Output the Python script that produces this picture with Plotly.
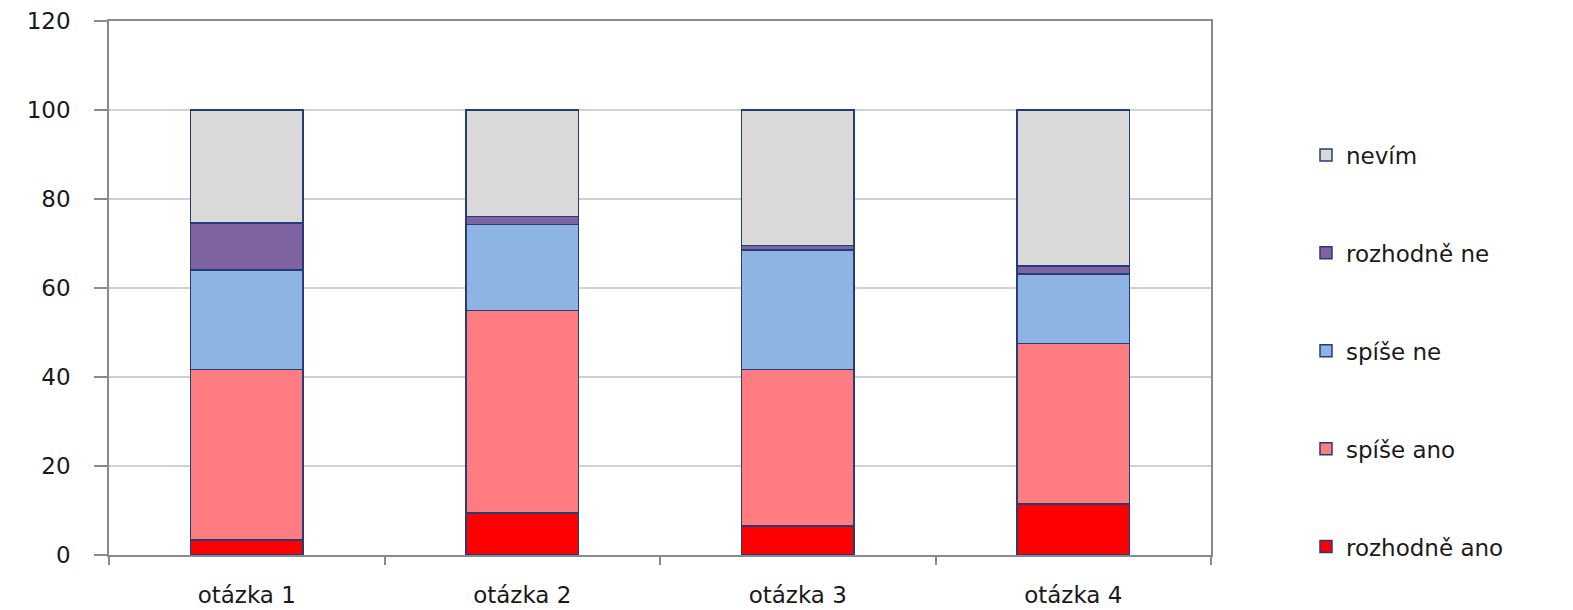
import plotly.graph_objects as go

categories = ["otázka 1", "otázka 2", "otázka 3", "otázka 4"]
series_names = ["rozhodně ano", "spíše ano", "spíše ne", "rozhodně ne", "nevím"]
rozhodne_ano = [3.4, 9.4, 6.5, 11.5]
spise_ano = [38.3, 45.6, 35.2, 36.0]
spise_ne = [22.3, 19.3, 26.8, 15.6]
rozhodne_ne = [10.6, 1.8, 1.0, 1.8]
nevim = [25.4, 23.9, 30.5, 35.1]
y_ticks = [0, 20, 40, 60, 80, 100, 120]

colors = ["#FF0000", "#FF7C80", "#8EB4E3", "#8064A2", "#D9D9D9"]
values = [rozhodne_ano, spise_ano, spise_ne, rozhodne_ne, nevim]

FONT = "DejaVu Sans"

fig = go.Figure()
for i, (name, vals, col) in enumerate(zip(series_names, values, colors)):
    fig.add_trace(go.Bar(
        x=categories, y=vals, name=name, legendgroup=f"g{i}",
        legendrank=100 - i,
        marker=dict(color=col, line=dict(color="#253C7A", width=1.5)),
    ))

fig.update_layout(
    barmode="stack",
    bargap=0.593,
    width=1565, height=602,
    margin=dict(l=101, r=362, t=13, b=55, autoexpand=False),
    paper_bgcolor="white", plot_bgcolor="white",
    font=dict(family=FONT, size=23, color="#1a1a1a"),
    showlegend=True,
    legend=dict(
        x=(1306 - 1211) / 1102 + 1.0, xanchor="left", xref="paper",
        y=0.382, yanchor="middle",
        traceorder="grouped",
        tracegroupgap=65,
        font=dict(family=FONT, size=23, color="#1a1a1a"),
        bgcolor="rgba(0,0,0,0)",
        itemwidth=30,
    ),
)

fig.update_yaxes(
    range=[0, 120], tickvals=y_ticks, automargin=False,
    showgrid=True, gridcolor="#D0D0D0", gridwidth=1.5,
    showline=True, linecolor="#8A8A8A", linewidth=1.5, mirror=True,
    ticks="outside", ticklen=13, tickcolor="#8A8A8A", tickwidth=1.5,
    ticklabelstandoff=19,
    zeroline=False,
)
fig.update_xaxes(
    automargin=False,
    showline=True, linecolor="#8A8A8A", linewidth=1.5, mirror=True,
    ticks="outside", ticklen=8, tickcolor="#8A8A8A", tickwidth=1.5,
    tickson="boundaries",
    ticklabelstandoff=19,
    showgrid=False,
)

fig.write_html("out.html")
